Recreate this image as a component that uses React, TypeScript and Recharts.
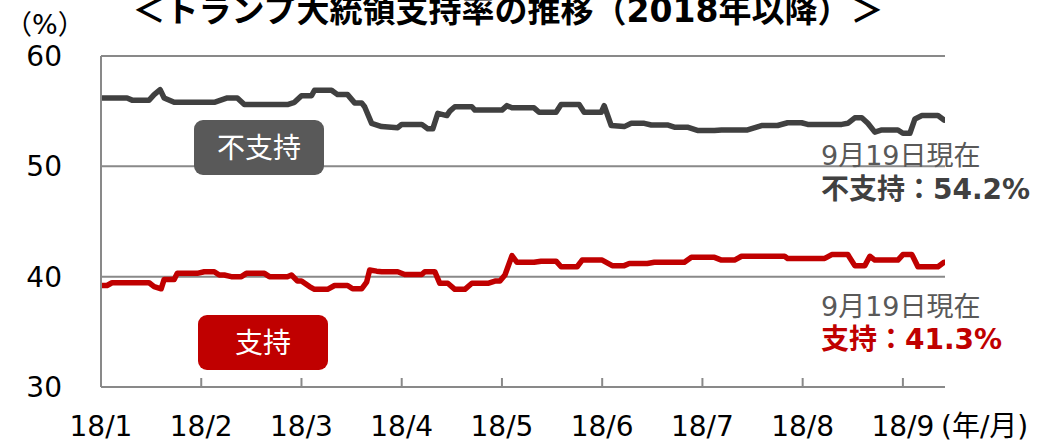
import React from 'react';
import { LineChart, Line, XAxis, YAxis, CartesianGrid } from 'recharts';

const FONT = "'DejaVu Sans', 'Noto Sans CJK JP', sans-serif";

// x positions are in months since 2018/1/1 (0 = 18/1, 1 = 18/2, ...)
const tickLabels = ['18/1', '18/2', '18/3', '18/4', '18/5', '18/6', '18/7', '18/8', '18/9'];
const monthTicks = [0, 1, 2, 3, 4, 5, 6, 7, 8];
const yTicks = [30, 40, 50, 60];

// 不支持 (disapprove)
const disapproveX = [
  0, 0.26, 0.31, 0.48, 0.53, 0.59, 0.63, 0.73, 1.06, 1.13, 1.26, 1.36, 1.43, 1.86, 1.93, 2.0, 2.1, 2.13,
  2.3, 2.36, 2.46, 2.53, 2.6, 2.63, 2.7, 2.8, 2.96, 3.0, 3.2, 3.26, 3.31, 3.36, 3.45, 3.48, 3.53, 3.7,
  3.73, 4.0, 4.05, 4.1, 4.32, 4.37, 4.54, 4.59, 4.77, 4.82, 4.99, 5.02, 5.09, 5.22, 5.29, 5.42, 5.49,
  5.65, 5.72, 5.85, 5.95, 6.12, 6.19, 6.45, 6.59, 6.75, 6.85, 6.99, 7.05, 7.39, 7.45, 7.52, 7.59, 7.65,
  7.72, 7.79, 7.95, 8.0, 8.07, 8.12, 8.19, 8.35, 8.41,
];
const disapproveV = [
  56.2, 56.2, 56.0, 56.0, 56.5, 56.95, 56.2, 55.8, 55.8, 55.8, 56.2, 56.2, 55.6, 55.6, 55.8, 56.4, 56.4, 56.9,
  56.9, 56.5, 56.5, 55.75, 55.75, 55.4, 53.9, 53.6, 53.5, 53.8, 53.8, 53.4, 53.4, 54.8, 54.6, 55.0, 55.4, 55.4,
  55.1, 55.1, 55.5, 55.3, 55.3, 54.9, 54.9, 55.6, 55.6, 54.9, 54.9, 55.5, 53.7, 53.6, 53.9, 53.9, 53.75,
  53.75, 53.55, 53.55, 53.25, 53.25, 53.3, 53.3, 53.7, 53.7, 53.95, 53.95, 53.8, 53.8, 53.9, 54.4, 54.4, 53.9,
  53.1, 53.3, 53.3, 53.0, 53.0, 54.3, 54.6, 54.6, 54.2,
];

// 支持 (approve)
const approveX = [
  0, 0.06, 0.11, 0.48, 0.53, 0.6, 0.63, 0.73, 0.76, 0.96, 1.03, 1.13, 1.18, 1.23, 1.3, 1.4, 1.45, 1.63,
  1.68, 1.86, 1.9, 1.96, 2.0, 2.08, 2.13, 2.26, 2.33, 2.46, 2.51, 2.6, 2.65, 2.68, 2.75, 2.8, 2.96, 3.03,
  3.2, 3.23, 3.33, 3.38, 3.46, 3.53, 3.63, 3.7, 3.86, 3.93, 3.98, 4.03, 4.1, 4.15, 4.32, 4.39, 4.54, 4.59,
  4.75, 4.8, 5.0, 5.1, 5.22, 5.27, 5.45, 5.52, 5.82, 5.89, 6.12, 6.19, 6.32, 6.39, 6.82, 6.85, 7.22, 7.29,
  7.45, 7.52, 7.62, 7.67, 7.72, 7.95, 8.0, 8.09, 8.15, 8.35, 8.41,
];
const approveV = [
  39.2, 39.2, 39.45, 39.45, 39.1, 38.9, 39.75, 39.75, 40.3, 40.3, 40.45, 40.45, 40.15, 40.15, 40.0, 40.0, 40.3, 40.3,
  40.0, 40.0, 40.15, 39.6, 39.6, 39.1, 38.85, 38.85, 39.2, 39.2, 38.9, 38.9, 39.5, 40.6, 40.5, 40.45, 40.45, 40.2,
  40.2, 40.45, 40.45, 39.4, 39.4, 38.85, 38.85, 39.4, 39.4, 39.6, 39.6, 40.15, 41.9, 41.3, 41.3, 41.4, 41.4, 40.9,
  40.9, 41.5, 41.5, 41.0, 41.0, 41.2, 41.2, 41.3, 41.3, 41.75, 41.75, 41.5, 41.5, 41.85, 41.85, 41.65, 41.65, 42.0,
  42.0, 41.0, 41.0, 41.85, 41.5, 41.5, 42.0, 42.0, 40.9, 40.9, 41.3,
];

const disapproveData = disapproveX.map((m, i) => ({ m, v: disapproveV[i] }));
const approveData = approveX.map((m, i) => ({ m, v: approveV[i] }));

const AXIS_GRAY = '#898989';
const DARK = '#404040';
const RED = '#C00000';
const GRAY_TEXT = '#595959';

const XTick = (props: any) => {
  const { x, y, payload } = props;
  return (
    <g>
      <line x1={x} x2={x} y1={y - 9} y2={y} stroke={AXIS_GRAY} strokeWidth={2} />
      <text x={x} y={y + 49} textAnchor="middle" fontSize={28} fontFamily={FONT} fill="#000">
        {tickLabels[payload.value]}
      </text>
    </g>
  );
};

const YTick = (props: any) => {
  const { x, y, payload } = props;
  return (
    <text x={x - 39} y={y + 10} textAnchor="end" fontSize={28} fontFamily={FONT} fill="#000">
      {payload.value}
    </text>
  );
};

export default function App() {
  return (
    <div style={{ position: 'absolute', left: 0, top: 0, width: 1042, height: 443, background: '#fff' }}>
      <LineChart width={1042} height={443} margin={{ top: 56, right: 97, bottom: 0, left: 0 }}>
        <CartesianGrid vertical={false} stroke={AXIS_GRAY} strokeWidth={2} />
        <XAxis
          dataKey="m"
          type="number"
          domain={[0, 8.42]}
          ticks={monthTicks}
          allowDataOverflow
          height={56}
          tickSize={0}
          tickMargin={0}
          tickLine={false}
          axisLine={{ stroke: AXIS_GRAY, strokeWidth: 2 }}
          tick={<XTick />}
          interval={0}
        />
        <YAxis
          type="number"
          domain={[30, 60]}
          ticks={yTicks}
          width={101}
          tickSize={0}
          tickMargin={0}
          tickLine={false}
          axisLine={{ stroke: AXIS_GRAY, strokeWidth: 2 }}
          tick={<YTick />}
          interval={0}
        />
        <Line
          data={disapproveData}
          dataKey="v"
          type="linear"
          stroke={DARK}
          strokeWidth={5.5}
          strokeLinejoin="round"
          strokeLinecap="round"
          dot={false}
          activeDot={false}
          isAnimationActive={false}
        />
        <Line
          data={approveData}
          dataKey="v"
          type="linear"
          stroke={RED}
          strokeWidth={5.5}
          strokeLinejoin="round"
          strokeLinecap="round"
          dot={false}
          activeDot={false}
          isAnimationActive={false}
        />
      </LineChart>
      <svg
        width={1042}
        height={443}
        style={{ position: 'absolute', left: 0, top: 0, pointerEvents: 'none' }}
        fontFamily={FONT}
      >
        <text x={508} y={22} textAnchor="middle" fontSize={33} fontWeight="bold" fill="#000">
          ＜トランプ大統領支持率の推移（2018年以降）＞
        </text>
        <text x={5} y={34} fontSize={27} fill="#000">（%）</text>
        <text x={941} y={436} fontSize={28} fill="#000">(年/月)</text>

        <rect x={194} y={120} width={130} height={55} rx={9} fill="#595959" />
        <text x={259} y={158} textAnchor="middle" fontSize={28} fill="#fff">不支持</text>

        <rect x={198} y={315} width={130} height={55} rx={9} fill={RED} />
        <text x={263} y={353} textAnchor="middle" fontSize={28} fill="#fff">支持</text>

        <text x={821} y={165} fontSize={27} fill={GRAY_TEXT}>9月19日現在</text>
        <text x={821} y={199} fontSize={28} fontWeight="bold" fill={DARK}>不支持：54.2%</text>
        <text x={821} y={316} fontSize={27} fill={GRAY_TEXT}>9月19日現在</text>
        <text x={821} y={349} fontSize={28} fontWeight="bold" fill={RED}>支持：41.3%</text>
      </svg>
    </div>
  );
}
